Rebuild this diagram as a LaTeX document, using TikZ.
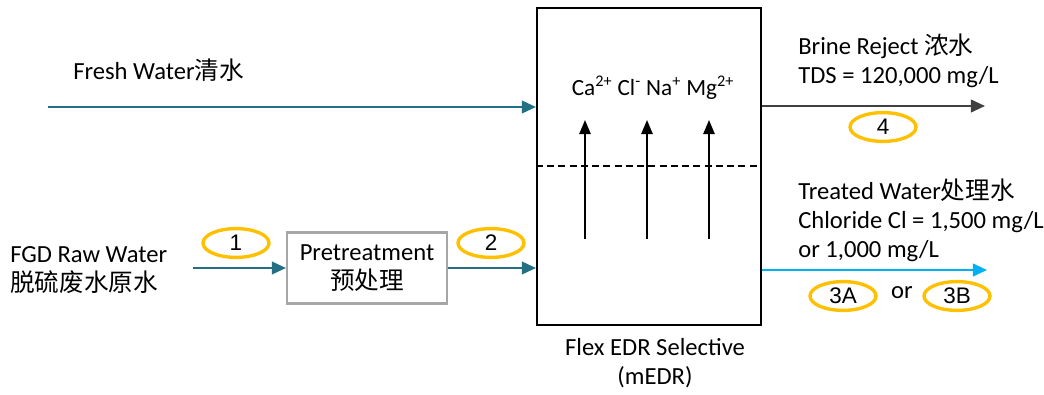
\documentclass[tikz,border=0pt]{standalone}
\usepackage{fontspec}
\setmainfont{Carlito}
\newfontfamily\cjk{Noto Sans CJK SC}
\newfontfamily\tagfont{Liberation Sans}
\definecolor{feed}{RGB}{35,112,133}
\definecolor{product}{RGB}{0,176,240}
\definecolor{reject}{RGB}{64,64,64}
\definecolor{tagring}{RGB}{255,192,0}
\definecolor{boxgray}{RGB}{166,166,166}
\usetikzlibrary{shapes.geometric, arrows.meta, positioning, calc}
\tikzset{
    label/.style={font=\fontsize{17.5}{20.5}\selectfont, align=left, inner sep=0pt},
    unit/.style={rectangle, draw=black, line width=1.5pt, minimum width=5.6cm, minimum height=7.925cm},
    pretreat/.style={rectangle, draw=boxgray, line width=1.5pt, minimum width=4cm, minimum height=1.775cm, align=center, font=\fontsize{17.5}{20.5}\selectfont},
    streamtag/.style={ellipse, draw=tagring, line width=2.4pt, minimum width=1.65cm, minimum height=0.72cm, inner sep=0pt, font=\tagfont\fontsize{16}{18}\selectfont},
    flow/.style={line width=1.4pt, -{Triangle[length=10pt,width=9pt]}},
    ionflow/.style={line width=1.4pt, black, -{Triangle[length=10pt,width=8pt]}}
}
\begin{document}
\begin{tikzpicture}[x=0.025cm, y=-0.025cm]
    \useasboundingbox (0,0) rectangle (1044,394);

    % mEDR unit
    \node[unit] (medr) at (649,166.5) {};
    \draw[dashed, line width=1.4pt, dash pattern=on 5pt off 3pt] (medr.west |- 0,166) -- (medr.east |- 0,166);
    \node[font=\fontsize{16.5}{20}\selectfont, inner sep=0pt] (ions) at (653,88)
        {Ca\textsuperscript{2+} Cl\textsuperscript{-} Na\textsuperscript{+} Mg\textsuperscript{2+}};
    \node[label, align=center, anchor=base] (cap) at (655,384) {Flex EDR Selective\\(mEDR)};

    % ion transfer
    \foreach \x [count=\i] in {585,647,709} {
        \coordinate (ionlo\i) at (\x,239);
        \coordinate (ionhi\i) at (\x,120);
        \draw[ionflow] (ionlo\i) -- (ionhi\i);
    }

    % Fresh water
    \coordinate (fresh) at (48,107);
    \node[label, anchor=base west] (freshlbl) at (73,79) {Fresh Water{\cjk 清水}};
    \draw[flow, feed] (fresh) -- (fresh -| medr.west);

    % FGD raw water and pretreatment
    \node[label, anchor=base west] (raw) at (10,291) {FGD Raw Water\\{\cjk 脱硫废水原水}};
    \coordinate (rawout) at (193,268);
    \node[pretreat] (pre) at (367,268) {Pretreatment\\{\cjk 预处理}};
    \draw[flow, feed] (rawout) -- (pre.west);
    \draw[flow, feed] (pre.east) -- (pre.east -| medr.west);
    \node[streamtag] (s1) at (236,243) {1};
    \node[streamtag] (s2) at (491,243) {2};

    % Brine reject
    \coordinate (brine) at (985,106);
    \node[label, anchor=base west] (brinelbl) at (798,83) {Brine Reject {\cjk 浓水}\\TDS = 120,000 mg/L};
    \draw[flow, reject] (brine -| medr.east) -- (brine);
    \node[streamtag] (s4) at (883,127) {4};

    % Treated water
    \coordinate (treated) at (987,270);
    \node[label, anchor=base west] (treatlbl) at (798,257) {Treated Water{\cjk 处理水}\\Chloride Cl = 1,500 mg/L\\or 1,000 mg/L};
    \draw[flow, product] (treated -| medr.east) -- (treated);
    \node[streamtag] (s3a) at (843,296) {3A};
    \node[label] (or) at (902,293) {or};
    \node[streamtag] (s3b) at (957,296) {3B};
\end{tikzpicture}
\end{document}
